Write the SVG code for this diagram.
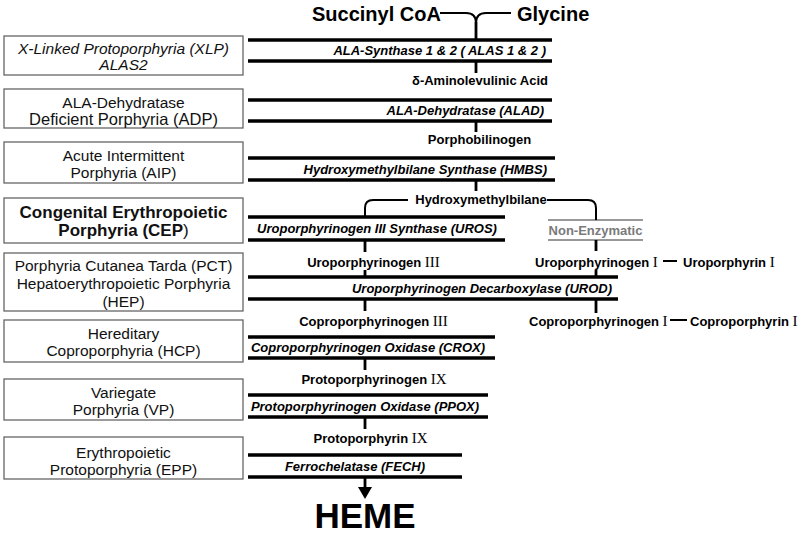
<svg xmlns="http://www.w3.org/2000/svg" width="800" height="535" viewBox="0 0 800 535">
<defs>
<style>
.box{fill:#fff;stroke:#666;stroke-width:1.3}
.bt{font-family:"Liberation Sans",Arial,sans-serif;font-size:15.5px;fill:#111;text-anchor:middle}
.bi{font-style:italic}
.bb{font-weight:bold;font-size:17px}
.bar{stroke:#000;stroke-width:3.5;fill:none}
.enz{font-family:"Liberation Sans",Arial,sans-serif;font-size:13px;font-weight:bold;font-style:italic;fill:#000}
.met{font-family:"Liberation Sans",Arial,sans-serif;font-size:13px;font-weight:bold;fill:#000;text-anchor:middle}
.met.st{text-anchor:start}
.rn{font-family:"Liberation Serif","Times New Roman",serif;font-weight:normal;font-size:15px}
.big{font-family:"Liberation Sans",Arial,sans-serif;font-weight:bold;fill:#000}
.stub{stroke:#000;stroke-width:2.8;fill:none}
.con{stroke:#000;stroke-width:2;fill:none}
.gl{stroke:#777;stroke-width:1.5}
</style>
</defs>
<rect width="800" height="535" fill="#fff"/>

<g id="disease-xlp"><rect class="box" x="4" y="36" width="239" height="39"/>
<text class="bt bi" x="123.5" y="53.5">X-Linked Protoporphyria (XLP)</text>
<text class="bt bi" x="123.5" y="70">ALAS2</text></g>
<g id="disease-adp"><rect class="box" x="4" y="89" width="239" height="39"/>
<text class="bt" x="123.5" y="107.5">ALA-Dehydratase</text>
<text class="bt" x="123.5" y="124.5" font-size="16.5px" style="font-size:16.5px">Deficient Porphyria (ADP)</text></g>
<g id="disease-aip"><rect class="box" x="4" y="142" width="239" height="41"/>
<text class="bt" x="123.5" y="160.5">Acute Intermittent</text>
<text class="bt" x="123.5" y="177.5">Porphyria  (AIP)</text></g>
<g id="disease-cep"><rect class="box" x="4" y="198" width="239" height="45"/>
<text class="bt bb" x="123.5" y="218">Congenital Erythropoietic</text>
<text class="bt bb" x="123.5" y="236">Porphyria  (CEP<tspan font-weight="normal">)</tspan></text></g>
<g id="disease-pct"><rect class="box" x="4" y="253" width="239" height="58"/>
<text class="bt" x="123.5" y="270.5">Porphyria Cutanea Tarda (PCT)</text>
<text class="bt" x="123.5" y="288.5">Hepatoerythropoietic Porphyria</text>
<text class="bt" x="123.5" y="306.5">(HEP)</text></g>
<g id="disease-hcp"><rect class="box" x="4" y="320" width="239" height="42"/>
<text class="bt" x="123.5" y="339">Hereditary</text>
<text class="bt" x="123.5" y="356">Coproporphyria  (HCP)</text></g>
<g id="disease-vp"><rect class="box" x="4" y="379" width="239" height="41"/>
<text class="bt" x="123.5" y="397.5">Variegate</text>
<text class="bt" x="123.5" y="414.5">Porphyria  (VP)</text></g>
<g id="disease-epp"><rect class="box" x="4" y="437" width="239" height="42"/>
<text class="bt" x="123.5" y="457.5">Erythropoietic</text>
<text class="bt" x="123.5" y="474.5">Protoporphyria  (EPP)</text></g>

<g id="substrates">
<text class="big" x="312" y="21" font-size="20">Succinyl CoA</text>
<text class="big" x="517" y="21" font-size="20">Glycine</text>
</g>

<g id="enz-alas"><path class="bar" d="M248,40H552M248,61H552"/>
<text class="enz" x="546" y="55" text-anchor="end">ALA-Synthase 1 &amp; 2 ( ALAS 1 &amp; 2 )</text></g>
<g id="enz-alad"><path class="bar" d="M248,100H552M248,121H552"/>
<text class="enz" x="544" y="115" text-anchor="end">ALA-Dehydratase (ALAD)</text></g>
<g id="enz-hmbs"><path class="bar" d="M248,158H555M248,180H555"/>
<text class="enz" x="547" y="174" text-anchor="end">Hydroxymethylbilane Synthase (HMBS)</text></g>
<g id="enz-uros"><path class="bar" d="M248,217H505M248,240H505"/>
<text class="enz" x="377" y="233" text-anchor="middle">Uroporphyrinogen III Synthase (UROS)</text></g>
<g id="enz-urod"><path class="bar" d="M248,277H618M248,299H618"/>
<text class="enz" x="612" y="292.5" text-anchor="end">Uroporphyrinogen Decarboxylase (UROD)</text></g>
<g id="enz-crox"><path class="bar" d="M248,337H495M248,358H495"/>
<text class="enz" x="368" y="352" text-anchor="middle">Coproporphyrinogen Oxidase (CROX)</text></g>
<g id="enz-ppox"><path class="bar" d="M248,395H488M248,417H488"/>
<text class="enz" x="365" y="410.5" text-anchor="middle">Protoporphyrinogen Oxidase (PPOX)</text></g>
<g id="enz-fech"><path class="bar" d="M248,455H462M248,477H462"/>
<text class="enz" x="355" y="470.5" text-anchor="middle">Ferrochelatase (FECH)</text></g>

<g id="met-ala"><text class="met" x="480" y="85">δ-Aminolevulinic Acid</text></g>
<g id="met-pbg"><text class="met" x="479.5" y="144">Porphobilinogen</text></g>
<g id="met-hmb"><text class="met" x="481" y="204">Hydroxymethylbilane</text></g>
<g id="nonenz"><path class="gl" d="M548,220H643M548,240H643"/>
<text x="595.5" y="235" font-family="Liberation Sans, Arial, sans-serif" font-size="13" font-weight="bold" fill="#7a7a7a" text-anchor="middle">Non-Enzymatic</text></g>
<g id="met-uro3"><text class="met" x="373.5" y="267">Uroporphyrinogen <tspan class="rn">III</tspan></text></g>
<g id="met-uro1"><text class="met st" x="535" y="267">Uroporphyrinogen <tspan class="rn">I</tspan></text></g>
<g id="met-urop1"><text class="met st" x="683" y="267">Uroporphyrin <tspan class="rn">I</tspan></text></g>
<g id="met-copro3"><text class="met" x="373.5" y="326">Coproporphyrinogen <tspan class="rn">III</tspan></text></g>
<g id="met-copro1"><text class="met st" x="529" y="326">Coproporphyrinogen <tspan class="rn">I</tspan></text></g>
<g id="met-coprop1"><text class="met st" x="690" y="326">Coproporphyrin <tspan class="rn">I</tspan></text></g>
<g id="met-proto9"><text class="met" x="374" y="384">Protoporphyrinogen <tspan class="rn">IX</tspan></text></g>
<g id="met-protop9"><text class="met" x="370.5" y="443">Protoporphyrin <tspan class="rn">IX</tspan></text></g>
<g id="heme"><text class="big" x="365" y="527.5" font-size="35" text-anchor="middle">HEME</text></g>

<g id="connectors">
<path class="con" d="M440,13H466Q476,13 476,23M511,13H486Q476,13 476,23"/>
<path class="stub" d="M476,22V40M476,61V73M476,121V132M476,180V191"/>
<path class="con" d="M408,200H373Q365,200 365,208V217M547,200H588Q596,200 596,208V220"/>
<path class="stub" d="M365,240V252M596,240V251M365,270V277M596,270V277M365,299V311M596,299V313M365,358V370M365,417V429M365,477V489"/>
<path class="con" d="M663,261H677M670,320H687" stroke-width="2.5"/>
<path d="M358,487H372L365,499Z" fill="#000"/>
</g>
</svg>
